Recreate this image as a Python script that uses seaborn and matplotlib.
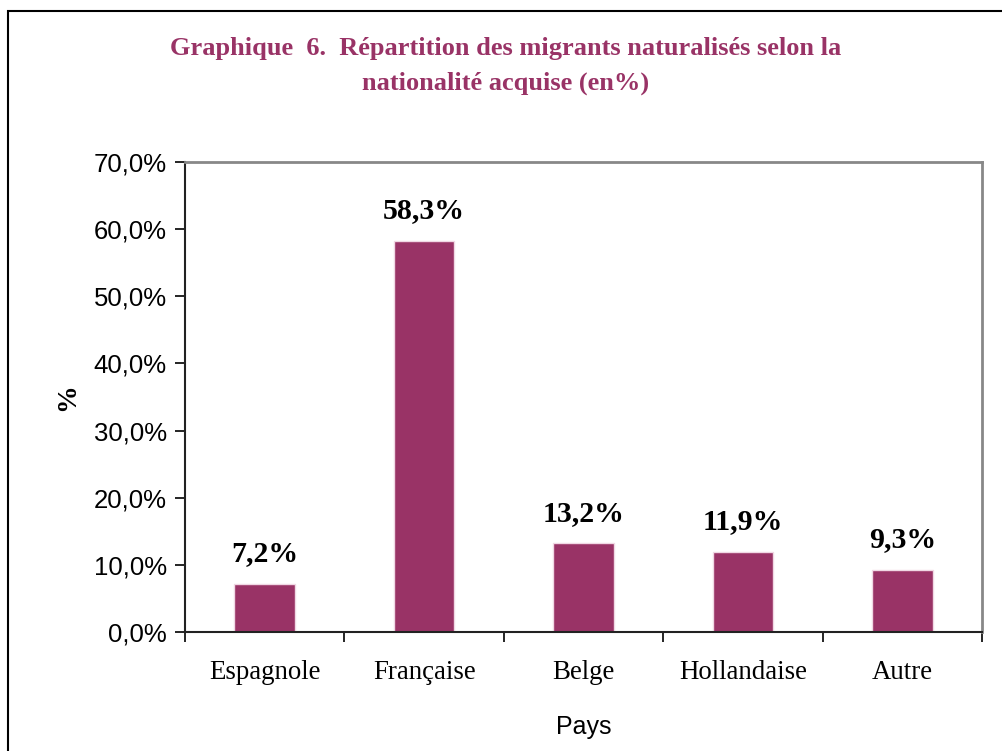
# Pacotes -----------------------------------------------------------------

import pandas as pd
import seaborn as sns
import matplotlib.pyplot as plt
from matplotlib.patches import Rectangle
from matplotlib.ticker import FuncFormatter

# Dados --------------------------------------------------------------------

pays = ["Espagnole", "Française", "Belge", "Hollandaise", "Autre"]
valeurs = [7.2, 58.3, 13.2, 11.9, 9.3]

df = pd.DataFrame({"pays": pays, "valeur": valeurs})

couleur = "#993366"

# Graphique ---------------------------------------------------------------

sns.set_style("white")
plt.rcParams["text.color"] = "black"
plt.rcParams["axes.labelcolor"] = "black"
plt.rcParams["xtick.color"] = "black"
plt.rcParams["ytick.color"] = "black"

fig = plt.figure(figsize=(10.02, 7.51), dpi=100)
ax = fig.add_axes([0.1846, 0.1585, 0.7954, 0.6258])

sns.barplot(data=df, x="pays", y="valeur", color=couleur, width=0.38,
            edgecolor="#f0d8e4", linewidth=1, saturation=1, ax=ax)

ax.set_ylim(0, 70)
ax.set_xlim(-0.5, 4.5)
ax.set_yticks(range(0, 71, 10))
ax.yaxis.set_major_formatter(FuncFormatter(lambda v, p: f"{v:.1f}%".replace(".", ",")))

# ticks entre les categories
ax.set_xticks([i - 0.5 for i in range(6)], minor=False)
ax.set_xticklabels([])
ax.set_xticks(range(5), minor=True)
ax.set_xticklabels(pays, minor=True, family="Liberation Serif", fontsize=19.4)
ax.tick_params(axis="x", which="minor", bottom=False, length=0, pad=20)
ax.tick_params(axis="x", which="major", bottom=True, direction="out", length=7,
               width=1.2, color="black")
ax.tick_params(axis="y", direction="out", length=7, width=1.2, color="black", left=True,
               labelsize=18.5, pad=6)
for lab in ax.get_yticklabels():
    lab.set_family("Liberation Sans")

for s in ["left", "bottom"]:
    ax.spines[s].set_color("#222222")
    ax.spines[s].set_linewidth(1.5)
for s in ["top", "right"]:
    ax.spines[s].set_color("#888888")
    ax.spines[s].set_linewidth(2)

ax.bar_label(ax.containers[0], labels=[f"{v:.1f}%".replace(".", ",") for v in valeurs],
             padding=12, family="Liberation Serif", fontweight="bold", fontsize=21.5,
             color="black")

ax.set_xlabel("Pays", family="Liberation Sans", fontsize=18, labelpad=22)
ax.set_ylabel("%", family="Liberation Serif", fontweight="bold", fontsize=20, labelpad=10)

fig.text(0.505, 0.912, "Graphique  6.  Répartition des migrants naturalisés selon la\nnationalité acquise (en%)",
         ha="center", va="center", family="Liberation Serif", fontweight="bold",
         fontsize=19, color=couleur, linespacing=1.6)

# cadre autour de la figure
fig.patches.append(Rectangle((8 / 1002, -0.1), 1.2, 1 - 11 / 751 + 0.1,
                             transform=fig.transFigure, fill=False,
                             edgecolor="black", linewidth=1.5))

fig.savefig("out.png", dpi=100)
